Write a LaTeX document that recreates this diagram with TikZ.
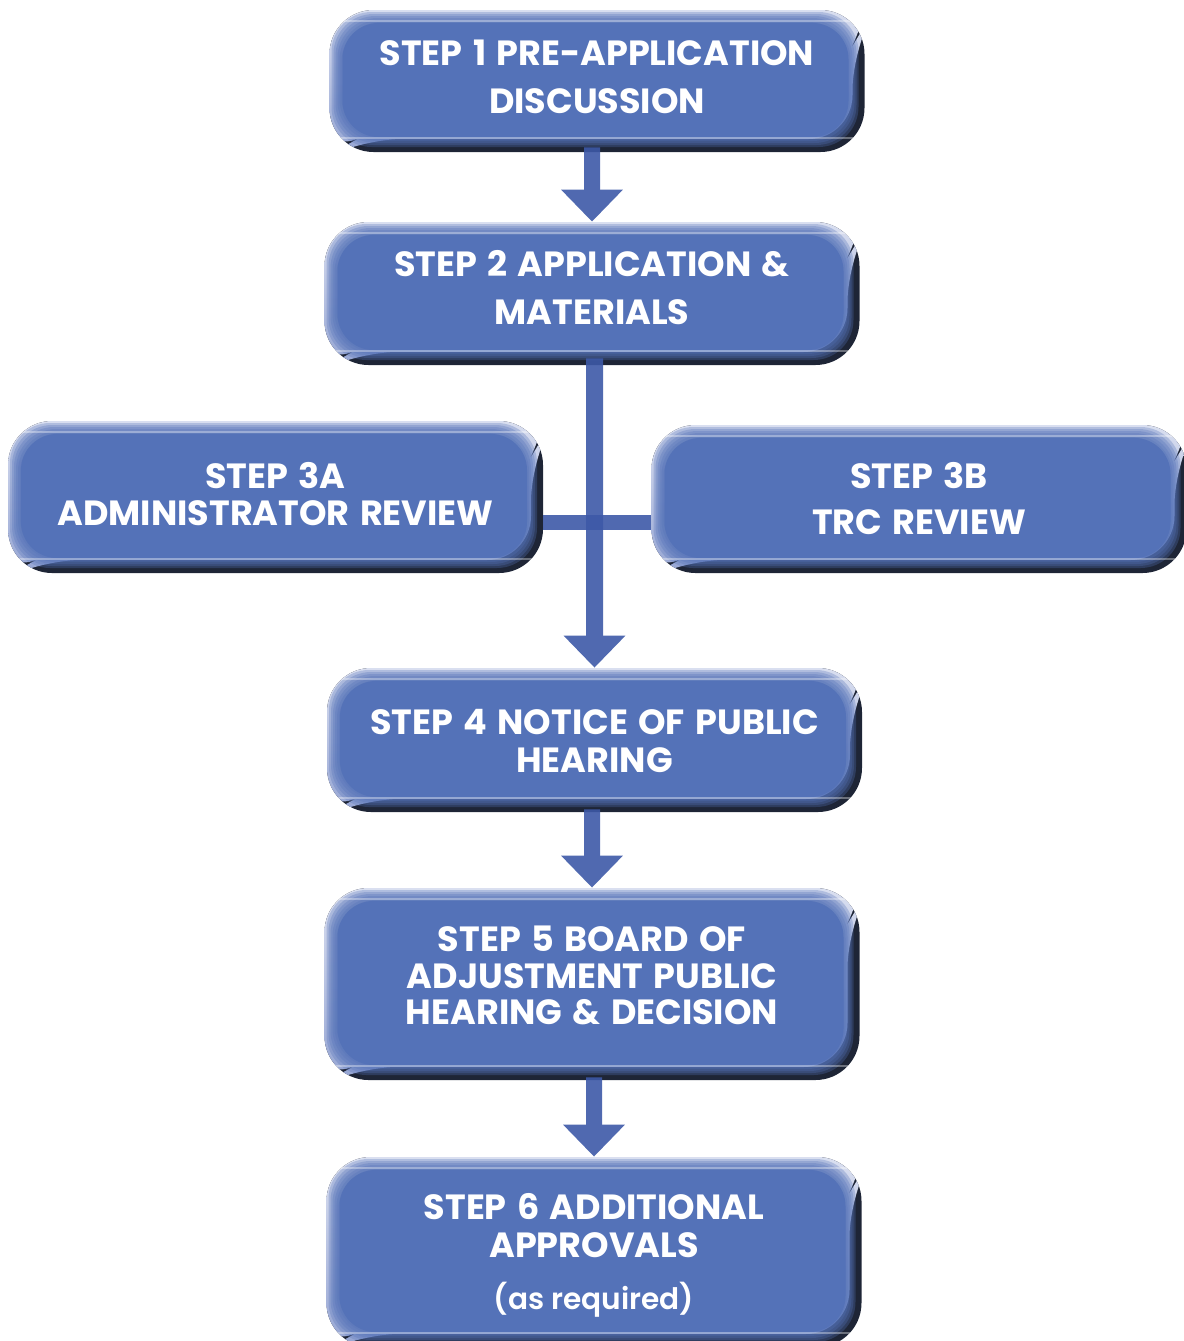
\documentclass[tikz,border=0pt]{standalone}
\usepackage{fontspec}
\newfontfamily\boxfont[WordSpace=1.4]{Poppins}
\newfontfamily\lightfont{Poppins Light}
\usetikzlibrary{arrows.meta,calc}
\definecolor{boxblue}{HTML}{5472B8}
\definecolor{beveldark}{HTML}{1E2536}
\definecolor{bevlight}{HTML}{DCE1F1}
\definecolor{bevmid}{HTML}{93A3D2}
\definecolor{connblue}{HTML}{3D59A7}
\newcommand\lifttext[2]{\raisebox{#1}[\height][\depth]{\begin{tabular}{@{}c@{}}#2\end{tabular}}}
\begin{document}
\begin{tikzpicture}[x=0.5pt,y=-0.5pt,
  stepbox/.style={rectangle, rounded corners=22pt, minimum width=267.5pt,
    inner sep=0pt, align=center, text=white,
    font=\boxfont\bfseries\fontsize{17.5}{18.25}\selectfont,
    path picture={
      \fill[beveldark]
        ([xshift=-3pt,yshift=3pt]path picture bounding box.north west) rectangle
        ([xshift=3pt,yshift=-3pt]path picture bounding box.south east);
      \shade[top color=bevlight, bottom color=bevmid]
        ([xshift=-3pt,yshift=3pt]path picture bounding box.north west) --
        ([xshift=3pt,yshift=3pt]path picture bounding box.north east) --
        ([xshift=3pt,yshift=-3pt]path picture bounding box.north east) --
        ([xshift=-6pt,yshift=-18pt]path picture bounding box.north east) --
        ([xshift=-6pt,yshift=6.5pt]path picture bounding box.south east) --
        ([xshift=14pt,yshift=6.5pt]path picture bounding box.south west) --
        ([xshift=-3pt,yshift=-3pt]path picture bounding box.south west) -- cycle;
      \foreach \k in {1,...,6}{
        \fill[boxblue, opacity=0.3, rounded corners=20pt]
          ([xshift=\k pt, yshift=-\k pt]path picture bounding box.north west) rectangle
          ([xshift={-\k pt-2pt}, yshift={\k pt+1.5pt}]path picture bounding box.south east);
      }
      \fill[boxblue, rounded corners=18pt]
        ([xshift=6.5pt, yshift=-6.5pt]path picture bounding box.north west) rectangle
        ([xshift=-8pt, yshift=7.5pt]path picture bounding box.south east);
      \draw[white, opacity=0.35, line width=0.6pt]
        ([yshift=-5.5pt]path picture bounding box.north west) --
        ([yshift=-5.5pt]path picture bounding box.north east);
      \draw[white, opacity=0.35, line width=0.6pt]
        ([yshift=7pt]path picture bounding box.south west) --
        ([yshift=7pt]path picture bounding box.south east);
    }},
  conn/.style={draw=connblue, line width=8pt},
  conntip/.style={-{Triangle[width=30pt,length=16pt]}}
]
\useasboundingbox (0,0) rectangle (1184,1341);

\node[stepbox, minimum height=71pt] (b1) at (597,81)
  {\lifttext{-0.75pt}{STEP 1 PRE-APPLICATION\\[5.75pt]DISCUSSION}};
\node[stepbox, minimum height=71.5pt] (b2) at (592,293.5)
  {\lifttext{0.5pt}{STEP 2 APPLICATION \&\\[5.75pt]MATERIALS}};
\node[stepbox, minimum height=76pt] (b3a) at (275.5,497)
  {\lifttext{-1.25pt}{STEP 3A\\ADMINISTRATOR REVIEW}};
\node[stepbox, minimum height=74pt] (b3b) at (919,499)
  {\lifttext{-2.5pt}{STEP 3B\\[4.75pt]TRC REVIEW}};
\node[stepbox, minimum height=72pt] (b4) at (594.5,740)
  {\lifttext{-3pt}{STEP 4 NOTICE OF PUBLIC\\[0.5pt]HEARING}};
\node[stepbox, minimum height=96pt] (b5) at (592,984)
  {\lifttext{1.5pt}{STEP 5 BOARD OF\\ADJUSTMENT PUBLIC\\HEARING \& DECISION}};
\node[stepbox, minimum height=95pt] (b6) at (594,1252)
  {\lifttext{-2.5pt}{STEP 6 ADDITIONAL\\[0.75pt]APPROVALS\\[6.5pt]{\lightfont\fontsize{14.8}{18.25}\selectfont (as required)}}};

\begin{scope}[transparency group, opacity=0.9]
  \draw[conn, conntip] ($(b1.south -| b2.north)+(0,-5)$) -- (b2.north);
\end{scope}
\begin{scope}[transparency group, opacity=0.9]
  \draw[conn, line width=8.5pt, conntip] ($(b2.south -| b4.north)+(0,-7)$) -- (b4.north);
\end{scope}
\begin{scope}[opacity=0.9]
  \draw[conn, line width=7.5pt] ([yshift=-12.5pt]b3a.east) -- ([yshift=-12.5pt]b3a.east -| b3b.west);
\end{scope}
\begin{scope}[transparency group, opacity=0.9]
  \draw[conn, conntip] ($(b4.south -| b5.north)+(0,-3)$) -- (b5.north);
\end{scope}
\begin{scope}[transparency group, opacity=0.9]
  \draw[conn, conntip] ($(b5.south -| b6.north)+(0,-3)$) -- (b6.north);
\end{scope}
\end{tikzpicture}
\end{document}
